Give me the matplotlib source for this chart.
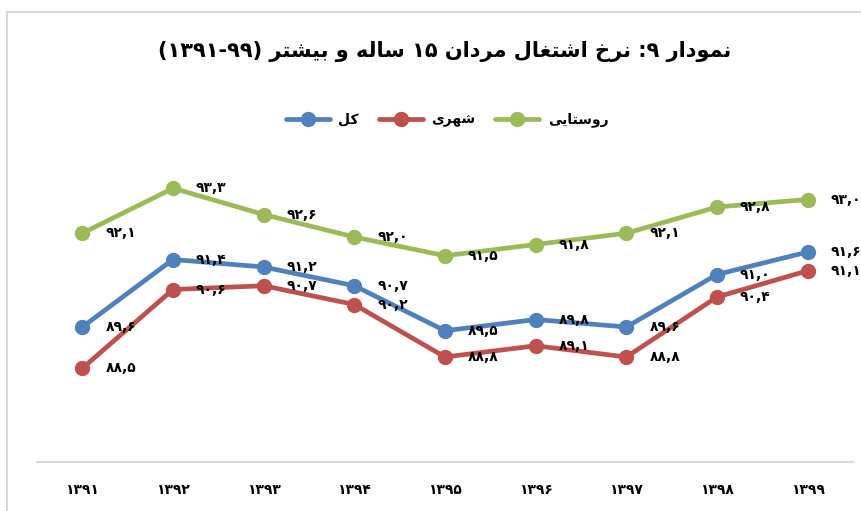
import re
import numpy as np
import matplotlib
matplotlib.use("Agg")
import matplotlib.pyplot as plt
from matplotlib.patches import Rectangle

plt.rcParams['font.family'] = ['DejaVu Sans']
plt.rcParams['font.weight'] = 'bold'

# data
years = ['1391', '1392', '1393', '1394', '1395', '1396', '1397', '1398', '1399']
total = [89.6, 91.4, 91.2, 90.7, 89.5, 89.8, 89.6, 91.0, 91.6]
urban = [88.5, 90.6, 90.7, 90.2, 88.8, 89.1, 88.8, 90.4, 91.1]
rural = [92.1, 93.3, 92.6, 92.0, 91.5, 91.8, 92.1, 92.8, 93.0]

series_names = ['کل', 'شهری', 'روستایی']
colors = ['#4F81BD', '#C0504D', '#9BBB59']
title = 'نمودار ۹: نرخ اشتغال مردان ۱۵ ساله و بیشتر (۹۹-۱۳۹۱)'

# --- minimal persian shaping (matplotlib has no bidi / joining) ---
FORMS = {
    'ا': ('\uFE8D', '\uFE8E', None, None),
    'ب': ('\uFE8F', '\uFE90', '\uFE91', '\uFE92'),
    'ت': ('\uFE95', '\uFE96', '\uFE97', '\uFE98'),
    'خ': ('\uFEA5', '\uFEA6', '\uFEA7', '\uFEA8'),
    'د': ('\uFEA9', '\uFEAA', None, None),
    'ر': ('\uFEAD', '\uFEAE', None, None),
    'س': ('\uFEB1', '\uFEB2', '\uFEB3', '\uFEB4'),
    'ش': ('\uFEB5', '\uFEB6', '\uFEB7', '\uFEB8'),
    'غ': ('\uFECD', '\uFECE', '\uFECF', '\uFED0'),
    'ل': ('\uFEDD', '\uFEDE', '\uFEDF', '\uFEE0'),
    'م': ('\uFEE1', '\uFEE2', '\uFEE3', '\uFEE4'),
    'ن': ('\uFEE5', '\uFEE6', '\uFEE7', '\uFEE8'),
    'ه': ('\uFEE9', '\uFEEA', '\uFEEB', '\uFEEC'),
    'و': ('\uFEED', '\uFEEE', None, None),
    'ی': ('\uFBFC', '\uFBFD', '\uFBFE', '\uFBFF'),
    'ک': ('\uFB8E', '\uFB8F', '\uFB90', '\uFB91'),
}
FA_DIGITS = str.maketrans('0123456789', '۰۱۲۳۴۵۶۷۸۹')


def shape_word(w):
    out = []
    n = len(w)
    for i, c in enumerate(w):
        if c not in FORMS:
            out.append(c)
            continue
        prev = i > 0 and w[i - 1] in FORMS and FORMS[w[i - 1]][2] is not None
        nxt = i < n - 1 and w[i + 1] in FORMS and FORMS[c][2] is not None
        iso, fin, ini, med = FORMS[c]
        if prev and nxt:
            out.append(med)
        elif prev:
            out.append(fin)
        elif nxt:
            out.append(ini)
        else:
            out.append(iso)
    return ''.join(reversed(out))


def rtl(text):
    toks = []
    for tok in text.split(' '):
        if any(c in FORMS for c in tok):
            toks.append(shape_word(tok))
        else:
            parts = re.findall(r'[۰-۹]+|[^۰-۹]', tok)
            s = ''.join(reversed(parts))
            s = s.translate(str.maketrans('()', ')('))
            toks.append(s)
    return ' '.join(reversed(toks))


def fa_num(v):
    return ('%.1f' % v).replace('.', ',').translate(FA_DIGITS)


fig = plt.figure(figsize=(8.62, 5.11), dpi=100)
ax = fig.add_axes([37 / 862, 49 / 511, 816 / 862, 300 / 511])

x = np.arange(len(years))
for vals, name, col in zip([total, urban, rural], series_names, colors):
    ax.plot(x, vals, color=col, lw=3.4, marker='o', markersize=10,
            solid_capstyle='round', label=rtl(name))
    for xi, v in zip(x, vals):
        ax.annotate(fa_num(v), (xi, v), xytext=(23, 0), textcoords='offset pixels',
                    ha='left', va='center', fontsize=10, fontweight='bold',
                    annotation_clip=False)

ax.set_xlim(-0.5, len(years) - 0.5)
ax.set_ylim(86, 94)
ax.set_xticks(x)
ax.set_xticklabels([y.translate(FA_DIGITS) for y in years], fontsize=10, fontweight='bold')
ax.tick_params(axis='x', length=0, pad=15)
ax.set_yticks([])
for s in ['top', 'right', 'left']:
    ax.spines[s].set_visible(False)
ax.spines['bottom'].set_color('#D9D9D9')
ax.spines['bottom'].set_linewidth(1.5)

fig.text(0.516, 1 - 52 / 511, rtl(title), ha='center', va='center',
         fontsize=15, fontweight='bold')

ax.legend(loc='center', bbox_to_anchor=(447 / 862, 1 - 120 / 511),
          bbox_transform=fig.transFigure, ncol=3, frameon=False,
          prop={'size': 10, 'weight': 'bold'}, handlelength=3.2,
          handletextpad=0.6, columnspacing=1.4)

# light frame like the chart area border
fig.add_artist(Rectangle((7 / 862, -0.1), 1.1, 1 - 12 / 511 + 0.1,
                         transform=fig.transFigure, fill=False,
                         edgecolor='#D9D9D9', lw=1.5))

fig.savefig('out.png', dpi=100)
